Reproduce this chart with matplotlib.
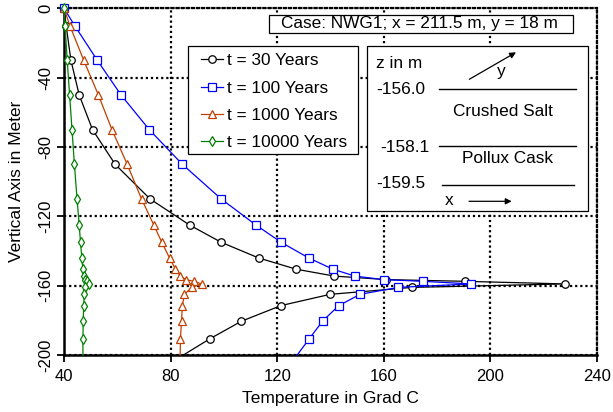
import matplotlib
matplotlib.use("Agg")
import matplotlib.pyplot as plt
from matplotlib.patches import Rectangle, FancyArrowPatch
from matplotlib.lines import Line2D

plt.rcParams['font.family'] = ['Liberation Sans', 'DejaVu Sans']

# ---- data ----
depth = [0, -10, -30, -50, -70, -90, -110, -125, -135, -144, -150.5, -154.5,
         -156.5, -157.5, -159, -161, -165, -171.5, -180.5, -190.5, -200]
t30 = [40, 40.8, 42.6, 45.7, 50.7, 59.2, 72.3, 87.1, 99.0, 113.0, 127.1, 141.5,
       161.0, 190.6, 228.0, 170.6, 139.9, 121.4, 106.6, 94.9, 84.8]
t100 = [40, 44.0, 52.5, 61.4, 72.0, 84.4, 99.0, 112.0, 121.5, 131.8, 140.9, 149.2,
        159.9, 174.7, 192.7, 165.5, 151.1, 143.1, 137.0, 132.1, 127.5]
t1000 = [40, 42.2, 47.4, 52.9, 58.0, 63.7, 69.1, 73.7, 76.7, 79.6, 81.8, 83.7,
         85.7, 88.7, 91.7, 87.9, 85.2, 84.4, 84.1, 83.7, 83.6]
t10000 = [40, 40.4, 41.2, 42.1, 43.0, 43.9, 44.9, 45.7, 46.2, 46.7, 47.1, 47.4,
          47.7, 48.5, 49.2, 48.0, 47.6, 47.4, 47.2, 47.1, 47.1]
labels = ["t = 30 Years", "t = 100 Years", "t = 1000 Years", "t = 10000 Years"]
colors = ["#000000", "#0000FF", "#C04000", "#008000"]
markers = ["o", "s", "^", "d"]
msizes = [5.4, 5.8, 5.6, 4.8]
xticks = [40, 80, 120, 160, 200, 240]
yticks = [0, -40, -80, -120, -160, -200]
case_text = "Case: NWG1; x = 211.5 m, y = 18 m"
layer_z = ["-156.0", "-158.1", "-159.5"]
layer_names = ["Crushed Salt", "Pollux Cask"]

W, H = 613, 412
fig = plt.figure(figsize=(W / 100, H / 100), dpi=100)
ax = fig.add_axes([64 / W, 1 - 355 / H, (597 - 64) / W, (355 - 8.3) / H])

series = [t30, t100, t1000, t10000]
n = len(depth)
for vals, lab, c, m, ms in zip(series, labels, colors, markers, msizes):
    ax.plot(vals, depth, color=c, lw=0.9, marker=m, markersize=ms,
            markerfacecolor='white', markeredgecolor=c, markeredgewidth=0.9,
            markevery=list(range(n - 1)), label=lab, clip_on=False, zorder=3)

ax.set_xlim(40, 240)
ax.set_ylim(-200, 0)
ax.set_xticks(xticks)
ax.set_yticks(yticks)
ax.set_yticklabels([str(v) for v in yticks], rotation=90, va='center')
ax.tick_params(axis='both', labelsize=12, direction='out', length=5, width=1.3,
               color='black')
ax.tick_params(axis='x', pad=5)
ax.tick_params(axis='y', pad=3)
ax.grid(True, color='black', linestyle=(0, (1, 1.3)), linewidth=1.6, zorder=1)
ax.set_axisbelow(True)

for s in ['left', 'bottom']:
    ax.spines[s].set_linewidth(1.8)
for s in ['top', 'right']:
    ax.spines[s].set_linewidth(1.6)
    ax.spines[s].set_linestyle((0, (1, 1.3)))

ax.set_xlabel("Temperature in Grad C", fontsize=12.5, labelpad=5)
ax.set_ylabel("Vertical Axis in Meter", fontsize=12.5, labelpad=10)


def fx(px):
    return px / W


def fy(py):
    return 1 - py / H


tf = fig.transFigure

# legend box (frame drawn separately)
fig.patches.append(Rectangle((fx(188.3), fy(154.3)), fx(358.3) - fx(188.3), fy(45.7) - fy(154.3),
                             transform=tf, facecolor='white', edgecolor='black',
                             linewidth=0.9, zorder=4))
leg = ax.legend(loc='upper left', bbox_to_anchor=(fx(200.7), fy(53.3)),
                bbox_transform=tf, fontsize=12.4, frameon=False, borderaxespad=0,
                handlelength=1.3, handletextpad=0.25, labelspacing=0.71,
                borderpad=0)
leg.set_zorder(6)
leg.remove()
fig.add_artist(leg)
leg.set_zorder(6)

# case box
fig.patches.append(Rectangle((fx(268.5), fy(32.5)), fx(573.3) - fx(268.5), fy(15) - fy(32.5),
                             transform=tf, facecolor='white', edgecolor='black',
                             linewidth=0.9, zorder=5))
fig.text(fx(419.5), fy(23.6), case_text, fontsize=12.4, ha='center', va='center',
         zorder=6)

# schematic box
fig.patches.append(Rectangle((fx(366.7), fy(210.7)), fx(587.7) - fx(366.7), fy(46) - fy(210.7),
                             transform=tf, facecolor='white', edgecolor='black',
                             linewidth=0.9, zorder=5))
fig.text(fx(376), fy(64), "z in m", fontsize=12.4, ha='left', va='center', zorder=6)
fig.text(fx(376), fy(90), layer_z[0], fontsize=12.4, ha='left', va='center', zorder=6)
fig.text(fx(380), fy(147.3), layer_z[1], fontsize=12.4, ha='left', va='center', zorder=6)
fig.text(fx(376), fy(184), layer_z[2], fontsize=12.4, ha='left', va='center', zorder=6)
fig.text(fx(502.5), fy(111.7), layer_names[0], fontsize=12.4, ha='center', va='center', zorder=6)
fig.text(fx(507.8), fy(158.3), layer_names[1], fontsize=12.4, ha='center', va='center', zorder=6)
fig.text(fx(501.7), fy(71.5), "y", fontsize=12.4, ha='center', va='center', zorder=6)
fig.text(fx(449.3), fy(200.2), "x", fontsize=12.4, ha='center', va='center', zorder=6)
for (x0, x1, yy) in [(439, 576, 89), (439, 576, 146), (441.7, 574.3, 185)]:
    fig.lines.append(Line2D([fx(x0), fx(x1)], [fy(yy), fy(yy)], transform=tf,
                            color='black', linewidth=1.0, zorder=6))
for (p0, p1) in [((469.3, 79.3), (516, 52.3)), ((469, 201.3), (511.7, 201.3))]:
    arr = FancyArrowPatch((fx(p0[0]), fy(p0[1])), (fx(p1[0]), fy(p1[1])),
                          transform=tf, arrowstyle='-|>', mutation_scale=9,
                          color='black', lw=0.9, shrinkA=0, shrinkB=0, zorder=7)
    fig.add_artist(arr)

fig.savefig("out.png", dpi=100)
